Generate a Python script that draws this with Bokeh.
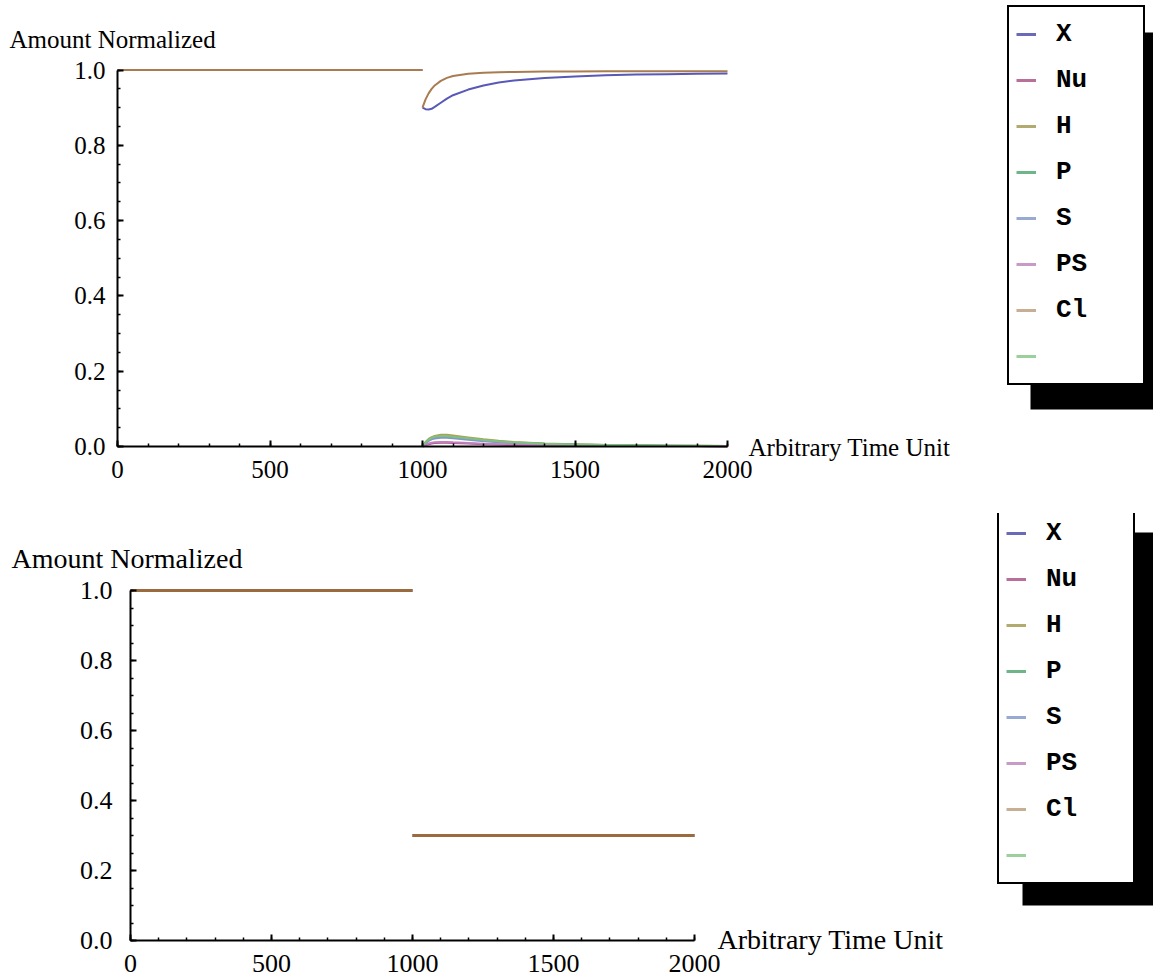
from bokeh.plotting import figure
from bokeh.models import Range1d, FixedTicker, Legend, LegendItem, Label, BoxAnnotation
from bokeh.layouts import column
from bokeh.embed import file_html
from bokeh.resources import INLINE

# ---------------- data ----------------
series_names = ["X", "Nu", "H", "P", "S", "PS", "Cl", " "]
x_ticks = [0, 500, 1000, 1500, 2000]
x_tick_labels = ["0", "500", "1000", "1500", "2000"]
y_ticks = [0.0, 0.2, 0.4, 0.6, 0.8, 1.0]
y_tick_labels = ["0.0", "0.2", "0.4", "0.6", "0.8", "1.0"]
x_label = "Arbitrary Time Unit"
y_label = "Amount Normalized"

# top chart
t_pre = [0, 1000]
t_post = [1000, 1010, 1020, 1030, 1040, 1060, 1080, 1100, 1150, 1200,
          1250, 1300, 1400, 1500, 1600, 1700, 1800, 1900, 2000]
X_pre = [1.0, 1.0]
Cl_pre = [1.0, 1.0]
X_post = [0.900, 0.896, 0.895, 0.897, 0.902, 0.913, 0.924, 0.933, 0.948, 0.959,
          0.967, 0.972, 0.979, 0.983, 0.986, 0.988, 0.989, 0.990, 0.991]
Cl_post = [0.900, 0.922, 0.938, 0.950, 0.959, 0.971, 0.979, 0.984, 0.990, 0.993,
           0.994, 0.995, 0.996, 0.996, 0.997, 0.997, 0.997, 0.997, 0.997]
H_post = [0.000, 0.012, 0.020, 0.025, 0.028, 0.031, 0.031, 0.029, 0.024, 0.019,
          0.015, 0.012, 0.008, 0.006, 0.004, 0.003, 0.002, 0.002, 0.001]
P_post = [0.000, 0.010, 0.017, 0.021, 0.024, 0.026, 0.026, 0.024, 0.020, 0.016,
          0.013, 0.010, 0.007, 0.005, 0.004, 0.003, 0.002, 0.002, 0.001]
S_post = [0.000, 0.009, 0.015, 0.019, 0.021, 0.023, 0.023, 0.022, 0.018, 0.014,
          0.011, 0.009, 0.006, 0.004, 0.003, 0.002, 0.002, 0.001, 0.001]
Nu_post = [0.000, 0.004, 0.006, 0.008, 0.009, 0.010, 0.010, 0.009, 0.008, 0.006,
           0.005, 0.004, 0.003, 0.002, 0.002, 0.001, 0.001, 0.001, 0.000]
PS_post = [0.000, 0.005, 0.008, 0.010, 0.011, 0.012, 0.012, 0.011, 0.009, 0.007,
           0.006, 0.005, 0.003, 0.002, 0.002, 0.001, 0.001, 0.001, 0.000]
G8_post = [0.000, 0.011, 0.018, 0.023, 0.026, 0.028, 0.028, 0.026, 0.022, 0.017,
           0.014, 0.011, 0.007, 0.005, 0.004, 0.003, 0.002, 0.001, 0.001]

# bottom chart
t2_pre = [0, 1000]
t2_post = [1000, 2000]
X2_pre = [1.0, 1.0]
X2_post = [0.3, 0.3]
Cl2_pre = [1.0, 1.0]
Cl2_post = [0.3, 0.3]

# ---------------- styles ----------------
plot_colors = {"X": "#5858b8", "Nu": "#b05088", "H": "#b0a050", "P": "#50a870",
               "S": "#8098c8", "PS": "#c080c0", "Cl": "#a87c50", " ": "#80c080"}
legend_colors = ["#6a6ab8", "#b8709a", "#b3aa70", "#6fb58a", "#99aad0",
                 "#c89ac8", "#c8ae94", "#9bcf9b"]
SERIF = "Liberation Serif"
MONO = "Liberation Mono"

x_minor = [i * 100 for i in range(21)]
y_minor = [i * 0.05 for i in range(21)]


def new_fig(height, xr, yr):
    p = figure(width=1153, height=height, output_backend="svg", toolbar_location=None,
               x_range=Range1d(*xr), y_range=Range1d(*yr),
               min_border_left=0, min_border_right=0, min_border_top=0,
               min_border_bottom=0)
    p.title.visible = False
    p.grid.visible = False
    p.outline_line_color = None
    p.background_fill_color = "white"
    p.border_fill_color = "white"
    return p


def style_axes(p, fs, x_standoff, y_standoff):
    for ax in (p.xaxis[0], p.yaxis[0]):
        ax.fixed_location = 0
        ax.axis_line_color = "black"
        ax.axis_line_width = 2
        ax.major_tick_in = 6
        ax.major_tick_out = 0
        ax.minor_tick_in = 3
        ax.minor_tick_out = 0
        ax.major_tick_line_width = 2
        ax.minor_tick_line_width = 1.5
        ax.major_tick_line_color = "black"
        ax.minor_tick_line_color = "black"
        ax.major_label_text_font = SERIF
        ax.major_label_text_font_size = fs
        ax.major_label_text_color = "black"
    p.xaxis[0].bounds = (0, 2000)
    p.yaxis[0].bounds = (0, 1)
    p.xaxis[0].ticker = FixedTicker(ticks=x_ticks, minor_ticks=x_minor)
    p.yaxis[0].ticker = FixedTicker(ticks=y_ticks, minor_ticks=y_minor)
    p.xaxis[0].major_label_overrides = {k: v for k, v in zip(x_ticks, x_tick_labels)}
    p.yaxis[0].major_label_overrides = {k: v for k, v in zip(y_ticks, y_tick_labels)}
    p.xaxis[0].major_label_standoff = x_standoff
    p.yaxis[0].major_label_standoff = y_standoff


def make_legend(p, loc, font_size, proxy_x, proxy_y):
    items = []
    for name, col in zip(series_names, legend_colors):
        # one-point line: draws nothing in the plot, gives the legend swatch
        proxy = p.line(x=[proxy_x], y=[proxy_y], line_color=col, line_width=3)
        items.append(LegendItem(label=name, renderers=[proxy]))
    leg = Legend(items=items, location=loc, padding=7, spacing=6,
                 label_height=40, glyph_height=40, glyph_width=20,
                 label_width=80, label_standoff=20, margin=0,
                 border_line_color="black", border_line_width=2,
                 border_line_alpha=1,
                 background_fill_color="white", background_fill_alpha=1,
                 label_text_font=MONO, label_text_font_style="bold",
                 label_text_font_size=font_size, label_text_color="black")
    p.add_layout(leg)


# ---------------- top chart ----------------
# pixel geometry: origin (117,446), 0.305 px per unit, 376.5 px per 1.0
H1 = 513


def tx(px):
    return (px - 117) / 0.305


def ty(py):
    return (446 - py) / 376.5


p1 = new_fig(H1, (tx(0), tx(1153)), (ty(H1), ty(0)))
style_axes(p1, "25px", 14, 12)

p1.add_layout(BoxAnnotation(left=tx(1030), right=tx(1200), top=ty(32), bottom=ty(409),
                            fill_color="black", fill_alpha=1, line_color=None,
                            level="underlay"))

top_small = [("Nu", Nu_post), ("H", H_post), ("P", P_post), ("S", S_post),
             ("PS", PS_post), (" ", G8_post)]
for name, ys in top_small:
    p1.line(t_post, ys, line_color=plot_colors[name], line_width=2)
p1.line(t_pre, X_pre, line_color=plot_colors["X"], line_width=2)
p1.line(t_post, X_post, line_color=plot_colors["X"], line_width=2)
p1.line(t_pre, Cl_pre, line_color=plot_colors["Cl"], line_width=2)
p1.line(t_post, Cl_post, line_color=plot_colors["Cl"], line_width=2)

make_legend(p1, (1007, H1 - 385), "26px", t_pre[0], X_pre[0])

p1.add_layout(Label(x=tx(9), y=ty(39), text=y_label, text_font=SERIF,
                    text_font_size="25px", text_color="black",
                    text_baseline="alphabetic", text_align="left"))
p1.add_layout(Label(x=tx(748), y=ty(447), text=x_label, text_font=SERIF,
                    text_font_size="25px", text_color="black",
                    text_baseline="alphabetic", text_align="left"))

# ---------------- bottom chart ----------------
# reference geometry: origin (130,940), 0.282 px per unit, 350 px per 1.0
H2 = 976 - H1


def bx(px):
    return (px - 130) / 0.282


def by(py):
    return (940 - py) / 350


p2 = new_fig(H2, (bx(0), bx(1153)), (by(976), by(H1)))
style_axes(p2, "26px", 14, 18)

p2.add_layout(BoxAnnotation(left=bx(1022), right=bx(1200), top=by(532), bottom=by(905),
                            fill_color="black", fill_alpha=1, line_color=None,
                            level="underlay"))

p2.line(t2_pre, X2_pre, line_color=plot_colors["X"], line_width=3)
p2.line(t2_post, X2_post, line_color=plot_colors["X"], line_width=3)
p2.line(t2_pre, Cl2_pre, line_color="#9b6b3e", line_width=3)
p2.line(t2_post, Cl2_post, line_color="#9b6b3e", line_width=3)

make_legend(p2, (997, 976 - 884), "26px", t2_pre[0], X2_pre[0])

p2.add_layout(Label(x=bx(11), y=by(558), text=y_label, text_font=SERIF,
                    text_font_size="28px", text_color="black",
                    text_baseline="alphabetic", text_align="left"))
p2.add_layout(Label(x=bx(717), y=by(939), text=x_label, text_font=SERIF,
                    text_font_size="28px", text_color="black",
                    text_baseline="alphabetic", text_align="left"))

layout = column(p1, p2, spacing=0)
open("out.html", "w").write(file_html(layout, INLINE))
